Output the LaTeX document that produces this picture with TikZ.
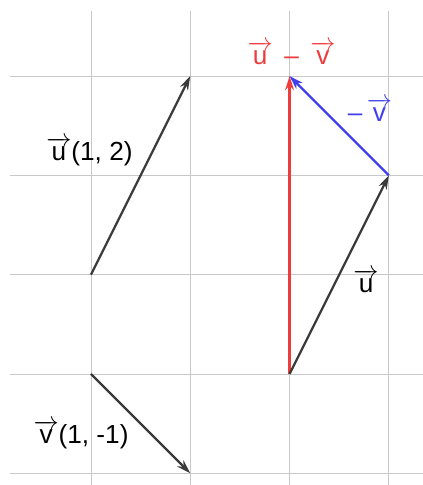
\documentclass[tikz,border=0pt]{standalone}
\usepackage{amsmath}
\usepackage{fontspec}
\setmainfont{Liberation Sans}
\usetikzlibrary{arrows.meta}
\definecolor{GridGray}{HTML}{C8C8C8}
\definecolor{VecGray}{HTML}{3A3A3A}
\definecolor{DiffRed}{HTML}{EE3B3B}
\definecolor{NegBlue}{HTML}{4040EE}
\newcommand{\vecsf}[1]{\ensuremath{\overrightarrow{\text{#1}}}}

\begin{document}
\begin{tikzpicture}[x=2cm,y=2cm,
    vecline/.style={line width=1.3pt,-{Stealth[length=8pt,width=5pt]}},
    veclabel/.style={font=\fontsize{15}{17}\selectfont,inner sep=1pt}]
    \useasboundingbox (-0.916,-1.118) rectangle (3.343,3.766);
    % grid
    \foreach \xx in {0,1,2,3}{
      \draw[GridGray,line width=.5pt] (\xx,-1.118) -- (\xx,3.656);
    }
    \foreach \yy in {-1,0,1,2,3}{
      \draw[GridGray,line width=.5pt] (-0.816,\yy) -- (3.343,\yy);
    }
    % points
    \coordinate (uStart) at (0,1);
    \coordinate (uEnd) at (1,3);
    \coordinate (vStart) at (0,0);
    \coordinate (vEnd) at (1,-1);
    \coordinate (sumO) at (2,0);
    \coordinate (sumU) at (3,2);
    \coordinate (sumD) at (2,3);
    % vectors
    \draw[vecline,VecGray] (uStart) -- (uEnd);
    \draw[vecline,VecGray] (vStart) -- (vEnd);
    \draw[vecline,DiffRed] (sumO) -- (sumD);
    \draw[vecline,VecGray] (sumO) -- (sumU);
    \draw[vecline,NegBlue] (sumU) -- (sumD);
    % labels
    \node[veclabel] (uLabel) at (-0.015,2.24) {\vecsf{u}(1, 2)};
    \node[veclabel] (vLabel) at (-0.10,-0.614) {\vecsf{v}(1, -1)};
    \node[veclabel,text=DiffRed] (diffLabel) at (2.02,3.235) {\vecsf{u} \,\textendash\, \vecsf{v}};
    \node[veclabel,text=NegBlue] (negLabel) at (2.81,2.66) {\textendash\,\vecsf{v}};
    \node[veclabel] (uRight) at (2.77,0.94) {\vecsf{u}};
\end{tikzpicture}
\end{document}
